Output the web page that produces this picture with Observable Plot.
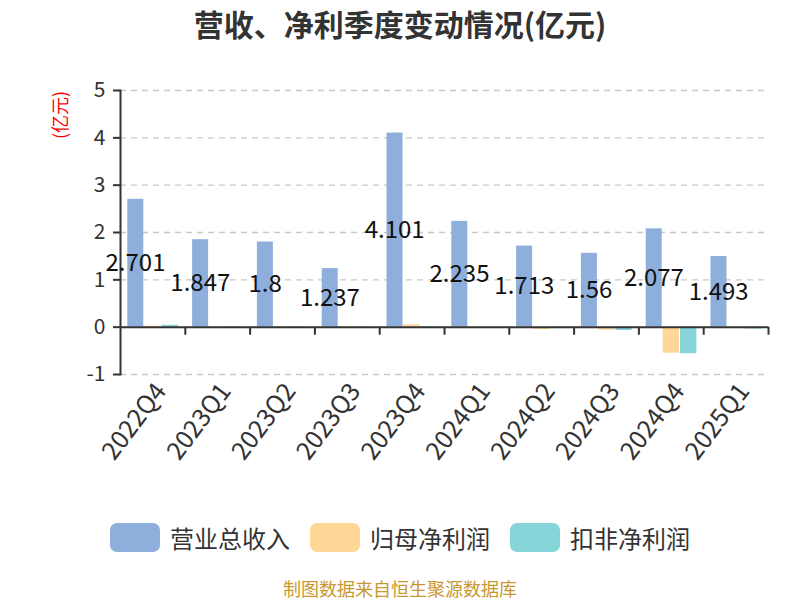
<!DOCTYPE html>
<html>
<head>
<meta charset="utf-8">
<script src="https://cdn.jsdelivr.net/npm/d3@7"></script>
<script src="https://cdn.jsdelivr.net/npm/@observablehq/plot@0.6"></script>
<style>
  html, body { margin: 0; padding: 0; background: #fff; }
  body { font-family: "Noto Sans CJK SC", "Noto Sans", sans-serif; }
  #wrap { position: relative; width: 800px; height: 600px; overflow: hidden; }
  #title { position: absolute; left: 0; width: 800px; top: 1px; text-align: center;
           font-size: 30px; font-weight: bold; color: #333; }
  #unit { position: absolute; left: 59px; top: 115px; transform: translate(-50%, -50%) rotate(-90deg);
          color: #ff0000; font-size: 18px; white-space: nowrap; }
  #chart { position: absolute; left: 0; top: 0; }
  .leg { position: absolute; top: 520px; display: flex; align-items: center; font-size: 24px; color: #333; }
  .sw { width: 50px; height: 29px; border-radius: 7px; margin-right: 10px; }
  #foot { position: absolute; left: 0; width: 800px; top: 575px; text-align: center;
          font-size: 18px; color: #c9972f; }
</style>
</head>
<body>
<div id="wrap">
  <div id="chart"></div>
  <div id="title">营收、净利季度变动情况(亿元)</div>
  <div id="unit">(亿元)</div>
  <div id="legend"></div>
  <div id="foot">制图数据来自恒生聚源数据库</div>
</div>
<script>
const quarters = ["2022Q4","2023Q1","2023Q2","2023Q3","2023Q4","2024Q1","2024Q2","2024Q3","2024Q4","2025Q1"];
const revenue = [2.701, 1.847, 1.8, 1.237, 4.101, 2.235, 1.713, 1.56, 2.077, 1.493];
const netProfit = [0.02, 0.01, 0.01, -0.02, 0.05, 0.003, -0.05, -0.06, -0.55, -0.03];
const deductedProfit = [0.04, 0.01, 0.01, -0.02, 0.01, 0.002, -0.03, -0.07, -0.56, -0.04];
const seriesNames = ["营业总收入", "归母净利润", "扣非净利润"];
const colors = ["#8eaedc", "#ffd898", "#86d5d8"];
const yTicks = [-1, 0, 1, 2, 3, 4, 5];

const rows = quarters.map((q, i) => ({q, rev: revenue[i], np: netProfit[i], dp: deductedProfit[i]}));

const chart = Plot.plot({
  width: 800,
  height: 500,
  marginTop: 90,
  marginBottom: 126,
  marginLeft: 120,
  marginRight: 32,
  style: {fontFamily: '"Noto Sans CJK SC", "Noto Sans", sans-serif', background: "transparent"},
  x: {domain: quarters, padding: 0, round: false},
  y: {domain: [-1, 5]},
  marks: [
    Plot.gridY(yTicks.filter(d => d !== 0), {stroke: "#c8c8c8", strokeOpacity: 1, strokeDasharray: "6,5", strokeWidth: 1.3}),
    Plot.barY(rows, {x: "q", y: "rev", fill: colors[0], insetLeft: 7.3, insetRight: 41.5}),
    Plot.barY(rows, {x: "q", y: "np", fill: colors[1], insetLeft: 24.3, insetRight: 24.2}),
    Plot.barY(rows, {x: "q", y: "dp", fill: colors[2], insetLeft: 41.6, insetRight: 6.8}),
    Plot.ruleY([0], {stroke: "#333", strokeWidth: 2}),
    Plot.ruleX(rows, {x: "q", dx: 32.4, y1: 0, y2: -0.17, stroke: "#333", strokeWidth: 2}),
    Plot.frame({anchor: "left", stroke: "#333", strokeWidth: 2}),
    Plot.axisY(yTicks, {tickSize: 7, tickPadding: 8, fontSize: 21, color: "#333", stroke: "#333", strokeWidth: 2, label: null, tickFormat: d => String(d)}),
    Plot.axisX({tickSize: 0, tickRotate: -53, tickPadding: 12, dx: 8, fontSize: 25, color: "#333", label: null}),
    Plot.text(rows, {x: "q", y: d => d.rev / 2, text: d => String(d.rev), dx: -17.4, fontSize: 24, fill: "#111"})
  ]
});
document.getElementById("chart").appendChild(chart);

const legend = document.getElementById("legend");
const lefts = [110, 310, 510];
seriesNames.forEach((name, i) => {
  const item = document.createElement("div");
  item.className = "leg";
  item.style.left = lefts[i] + "px";
  const sw = document.createElement("div");
  sw.className = "sw";
  sw.style.background = colors[i];
  const t = document.createElement("span");
  t.textContent = name;
  item.appendChild(sw);
  item.appendChild(t);
  legend.appendChild(item);
});
</script>
</body>
</html>
